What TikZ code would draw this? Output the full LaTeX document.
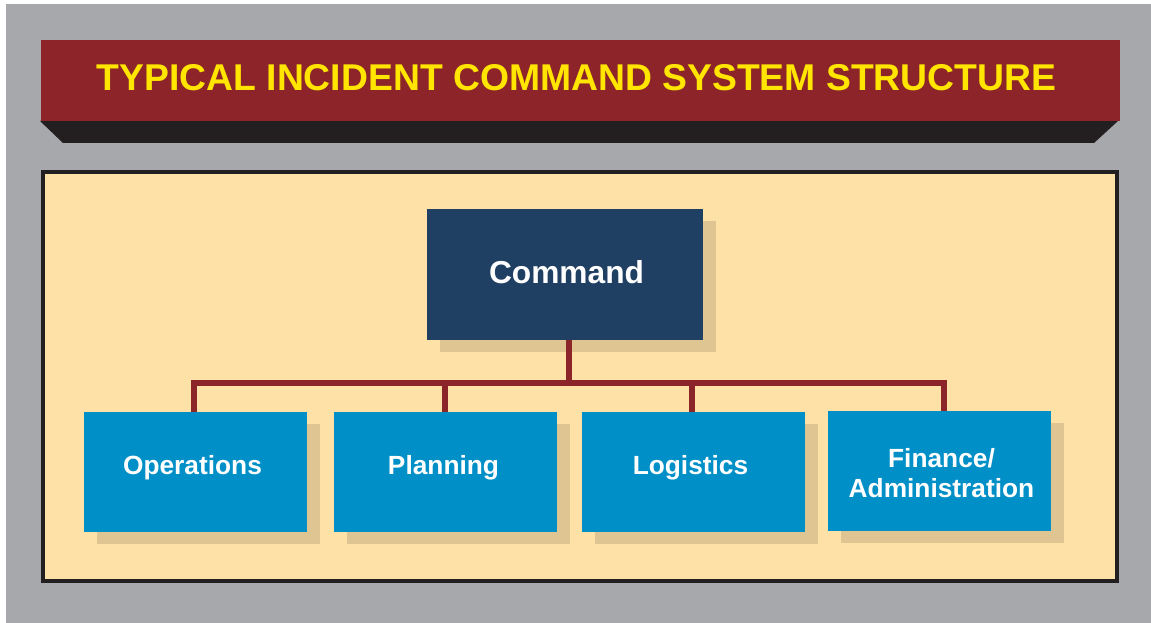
\documentclass[tikz,border=0pt]{standalone}
\usepackage{fontspec}
\setmainfont{Liberation Sans}
\usetikzlibrary{shadows}
\definecolor{bggray}{HTML}{A7A8AB}
\definecolor{titlered}{HTML}{8C2429}
\definecolor{titleyellow}{HTML}{FFE500}
\definecolor{darkshadow}{HTML}{231F20}
\definecolor{panelfill}{HTML}{FEE1A6}
\definecolor{boxshadow}{HTML}{DEC592}
\definecolor{cmdblue}{HTML}{1F4063}
\definecolor{unitblue}{HTML}{008FC7}
\definecolor{connred}{HTML}{8B2529}
\begin{document}
\begin{tikzpicture}[x=1pt,y=-1pt,
  boxshade/.style={drop shadow={shadow xshift=13pt, shadow yshift=-12pt, fill=boxshadow, opacity=1}},
  unitbox/.style={rectangle, inner sep=0pt, minimum width=223pt, minimum height=120pt, fill=unitblue, boxshade},
  cmdbox/.style={rectangle, inner sep=0pt, minimum width=276pt, minimum height=131pt, fill=cmdblue, boxshade},
  unittext/.style={anchor=base, text=white, font=\bfseries\fontsize{26.3}{30}\selectfont, inner sep=0pt},
  cmdtext/.style={anchor=base, text=white, font=\bfseries\fontsize{31.7}{36}\selectfont, inner sep=0pt},
  conn/.style={draw=connred, line width=6pt, line join=miter}
]
\useasboundingbox (0,0) rectangle (1151,623);
\fill[white] (0,0) rectangle (1151,623);
\fill[bggray] (6,4) rectangle (1151,623);
% title bar
\fill[darkshadow] (40,121) -- (1118,121) -- (1094,143) -- (63,143) -- cycle;
\fill[titlered] (41,40) rectangle (1120,121);
\node[anchor=base, text=titleyellow, font=\bfseries\fontsize{37.3}{44}\selectfont, inner sep=0pt] (title) at (576.5,91) {TYPICAL INCIDENT COMMAND SYSTEM STRUCTURE};
% panel
\filldraw[fill=panelfill, draw=darkshadow, line width=4pt] (43,172) rectangle (1117,581);
% boxes
\node[cmdbox] (cmd) at (565,274.5) {};
\node[unitbox] (ops) at (195.5,472) {};
\node[unitbox] (plan) at (445.5,472) {};
\node[unitbox] (log) at (693.5,472) {};
\node[unitbox] (fin) at (939.5,471) {};
% connectors
\coordinate (bus) at (569,383);
\draw[conn] ([xshift=4pt]cmd.south) -- (bus);
\draw[conn] ([xshift=-1.5pt]ops.north) |- (bus);
\draw[conn] ([xshift=-0.5pt]plan.north) |- (bus);
\draw[conn] ([xshift=-1.5pt]log.north) |- (bus);
\draw[conn] ([xshift=4.5pt]fin.north) |- (bus);
% labels
\node[cmdtext] (cmdT) at (566.5,283) {Command};
\node[unittext] (opsT) at (192.5,474) {Operations};
\node[unittext] (planT) at (443.5,474) {Planning};
\node[unittext] (logT) at (690.5,474) {Logistics};
\node[unittext] (finT1) at (941.5,467) {Finance/};
\node[unittext] (finT2) at (941.5,497) {Administration};
\end{tikzpicture}
\end{document}
